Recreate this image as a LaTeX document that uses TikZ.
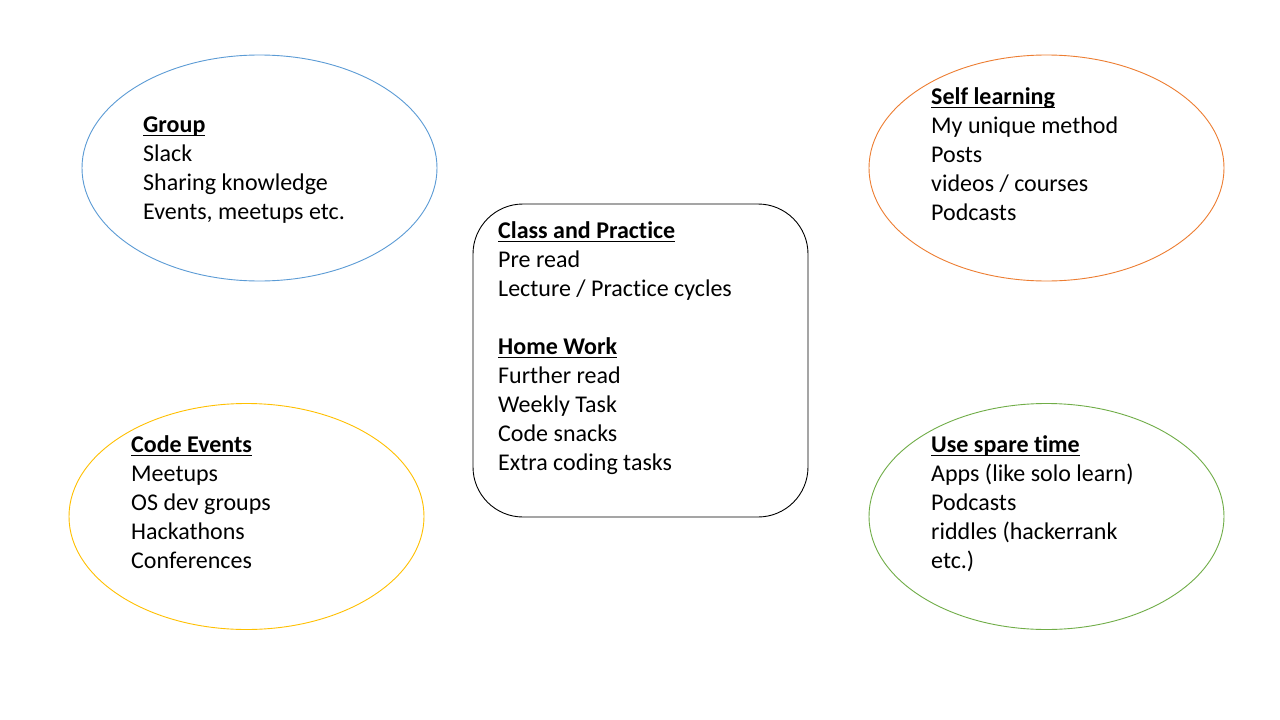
\documentclass[tikz,border=0pt]{standalone}
\usepackage{fontspec}
\setmainfont[Ligatures=NoCommon]{Carlito}
\usetikzlibrary{shapes.geometric}
\definecolor{grpblue}{HTML}{5B9BD5}
\definecolor{selforange}{HTML}{ED7D31}
\definecolor{codeyellow}{HTML}{FFC000}
\definecolor{sparegreen}{HTML}{70AD47}
% bold heading with a fixed-depth underline
\newcommand{\hdr}[1]{\setbox0\hbox{\textbf{#1}}\rlap{\rule[-4.4pt]{\wd0}{1.6pt}}\box0}
\begin{document}
\begin{tikzpicture}[x=1pt,y=-1pt,
  bubble/.style={ellipse, draw, line width=0.9pt, minimum width=355pt, minimum height=226pt, inner sep=0pt},
  core/.style={draw=black, line width=0.9pt, rounded corners=50pt, minimum width=335pt, minimum height=313pt, inner sep=0pt},
  lbl/.style={anchor=base west, align=left, inner sep=0pt, font=\fontsize{24}{29}\selectfont}]
\useasboundingbox (0,0) rectangle (1280,720);
\fill[white] (0,0) rectangle (1280,720);

% outline shapes
\node[bubble, draw=grpblue]    (group) at (259.5,168) {};
\node[bubble, draw=selforange] (self)  at (1046.5,168) {};
\node[bubble, draw=codeyellow] (code)  at (246.5,516.5) {};
\node[bubble, draw=sparegreen] (spare) at (1046.5,516.5) {};
\node[core] (class) at (640.5,360.5) {};

% texts (anchored at the baseline of their last line)
\node[lbl] (grouptext) at (143,219) {\hdr{Group}\\Slack\\Sharing knowledge\\Events, meetups etc.};
\node[lbl] (selftext) at (931,220) {\hdr{Self learning}\\My unique method\\Posts\\videos / courses\\Podcasts};
\node[lbl] (codetext) at (131,568) {\hdr{Code Events}\\Meetups\\OS dev groups\\Hackathons\\Conferences};
\node[lbl] (sparetext) at (931,568) {\hdr{Use spare time}\\Apps (like solo learn)\\Podcasts\\riddles (hackerrank\\etc.)};
\node[lbl] (classtext) at (498,470) {\hdr{Class and Practice}\\Pre read\\Lecture / Practice cycles\\[29pt]\hdr{Home Work}\\Further read\\Weekly Task\\Code snacks\\Extra coding tasks};
\end{tikzpicture}
\end{document}
